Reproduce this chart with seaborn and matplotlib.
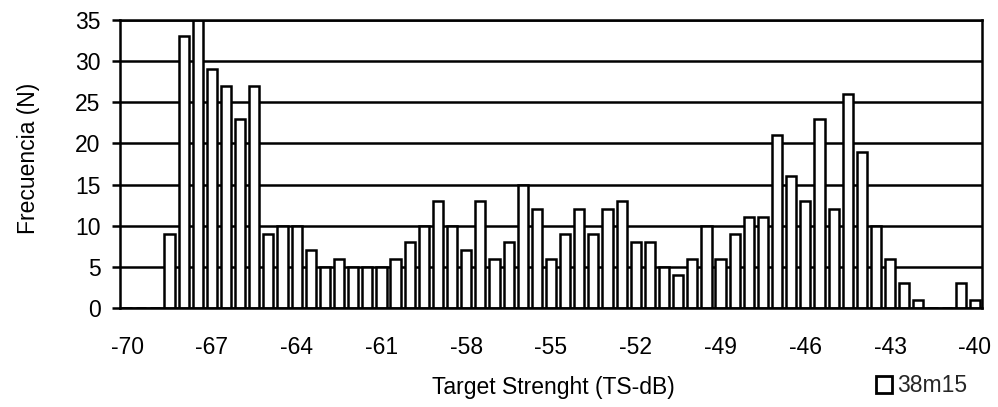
import numpy as np
import pandas as pd
import matplotlib
matplotlib.use("Agg")
import matplotlib.pyplot as plt
from matplotlib.patches import Patch
import seaborn as sns

# Target strength classes (dB), 0.5 dB steps
ts_start, ts_stop, ts_step = -70.0, -40.0, 0.5
ts_classes = np.arange(ts_start, ts_stop + ts_step / 2, ts_step)

# Frequency (number of echoes) per class, series 38m15
freq_38m15 = [
    0, 0, 0, 9, 33, 35, 29, 27, 23, 27,
    9, 10, 10, 7, 5, 6, 5, 5, 5, 6,
    8, 10, 13, 10, 7, 13, 6, 8, 15, 12,
    6, 9, 12, 9, 12, 13, 8, 8, 5, 4,
    6, 10, 6, 9, 11, 11, 21, 16, 13, 23,
    12, 26, 19, 10, 6, 3, 1, 0, 0, 3,
    1,
]

x_tick_labels = ["-70", "-67", "-64", "-61", "-58", "-55", "-52", "-49", "-46", "-43", "-40"]
y_ticks = [0, 5, 10, 15, 20, 25, 30, 35]
series_name = "38m15"

df = pd.DataFrame({
    "ts": [f"{v:g}" for v in ts_classes],
    "n": freq_38m15,
})

sns.set_theme(style="white")
plt.rcParams["font.family"] = ["Liberation Sans", "DejaVu Sans"]

FS = 16.5
LW = 1.8

fig = plt.figure(figsize=(9.98, 4.07), dpi=100)
W, H = 998, 407
left, right, top, bottom = 120, 982, 20, 308
ax = fig.add_axes([left / W, 1 - bottom / H, (right - left) / W, (bottom - top) / H])

sns.barplot(
    data=df, x="ts", y="n", order=list(df["ts"]),
    color="white", saturation=1, edgecolor="black", linewidth=LW,
    width=0.72, ax=ax,
)

ax.set_xlim(-0.5, len(ts_classes) - 0.5)
ax.set_ylim(0, 35)
ax.set_yticks(y_ticks)
ax.set_yticklabels([str(t) for t in y_ticks])
ax.set_xticks(np.arange(0, len(ts_classes), 6))
ax.set_xticklabels(x_tick_labels)

ax.yaxis.grid(True, color="black", linewidth=LW)
ax.xaxis.grid(False)
ax.set_axisbelow(True)

for side in ["left", "right", "top", "bottom"]:
    ax.spines[side].set_visible(True)
    ax.spines[side].set_color("black")
    ax.spines[side].set_linewidth(LW)

ax.tick_params(axis="x", length=0, pad=20, labelsize=FS, colors="black")
ax.tick_params(axis="y", left=True, length=6, width=LW, pad=8, labelsize=FS, colors="black")

ax.set_xlabel("Target Strenght (TS-dB)", fontsize=FS, color="black")
ax.set_ylabel("Frecuencia (N)", fontsize=FS, color="black")
ax.xaxis.set_label_coords((553 - left) / (right - left), (bottom - 376) / (bottom - top))
ax.yaxis.set_label_coords((40 - left) / (right - left), (bottom - 158) / (bottom - top))

fig.legend(
    handles=[Patch(facecolor="white", edgecolor="black", linewidth=2.0)],
    labels=[series_name], loc="center left",
    bbox_to_anchor=(876 / W, 1 - 386 / H), frameon=False,
    handlelength=0.7, handleheight=0.7, handletextpad=0.2,
    borderpad=0, borderaxespad=0, fontsize=FS,
)

fig.savefig("out.png", dpi=100)
